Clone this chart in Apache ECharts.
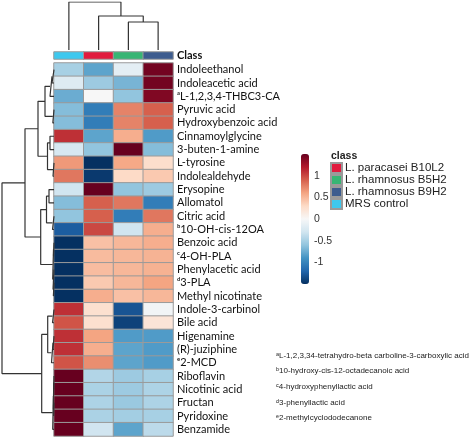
<!DOCTYPE html>
<html><head><meta charset="utf-8">
<script src="https://cdn.jsdelivr.net/npm/echarts/dist/echarts.min.js"></script>
<style>html,body{margin:0;padding:0;background:#fff}#c{width:472px;height:438px}</style>
</head><body><div id="c"></div>
<script>
const colNames = ['MRS control', 'L. paracasei B10L2', 'L. rhamnosus B5H2', 'L. rhamnosus B9H2'];
const classColors = ['#3EC8EE', '#E11B3E', '#38B574', '#3D5C8E'];
const legendOrder = ['L. paracasei B10L2', 'L. rhamnosus B5H2', 'L. rhamnosus B9H2', 'MRS control'];
const rowNames = ['Indoleethanol', 'Indoleacetic acid', 'ᵃL-1,2,3,4-THBC3-CA', 'Pyruvic acid', 'Hydroxybenzoic acid',
  'Cinnamoylglycine', '3-buten-1-amine', 'L-tyrosine', 'Indolealdehyde', 'Erysopine', 'Allomatol', 'Citric acid',
  'ᵇ10-OH-cis-12OA', 'Benzoic acid', 'ᶜ4-OH-PLA', 'Phenylacetic acid', 'ᵈ3-PLA', 'Methyl nicotinate',
  'Indole-3-carbinol', 'Bile acid', 'Higenamine', '(R)-juziphine', 'ᵉ2-MCD', 'Riboflavin', 'Nicotinic acid',
  'Fructan', 'Pyridoxine', 'Benzamide'];
// row z-scores: [MRS control, B10L2, B5H2, B9H2]
const values = [
  [-0.5, -0.8, -0.15, 1.45],
  [-0.2, -0.55, -0.7, 1.45],
  [-0.75, 0.0, -0.6, 1.4],
  [-0.65, -1.05, 0.75, 0.9],
  [-0.65, -1.05, 0.75, 0.9],
  [1.1, -0.8, 0.55, -0.85],
  [-0.25, -0.6, 1.5, -0.65],
  [0.65, -1.5, 0.58, 0.27],
  [0.8, -1.45, 0.3, 0.4],
  [-0.3, 1.5, -0.6, -0.55],
  [-0.65, 0.9, 0.8, -1.05],
  [-0.6, 0.9, -1.05, 0.8],
  [-1.25, 1.0, -0.3, 0.55],
  [-1.5, 0.45, 0.5, 0.55],
  [-1.5, 0.48, 0.5, 0.52],
  [-1.5, 0.47, 0.5, 0.53],
  [-1.5, 0.4, 0.5, 0.6],
  [-1.5, 0.55, 0.45, 0.5],
  [1.1, 0.25, -1.3, -0.05],
  [0.95, 0.25, -1.4, 0.2],
  [1.1, 0.6, -0.85, -0.85],
  [1.1, 0.55, -0.8, -0.85],
  [0.95, 0.7, -0.8, -0.85],
  [1.5, -0.45, -0.55, -0.5],
  [1.5, -0.48, -0.55, -0.47],
  [1.5, -0.47, -0.56, -0.47],
  [1.5, -0.48, -0.52, -0.5],
  [1.5, -0.3, -0.8, -0.4]
];
// dendrograms: [height, left, right], leaves are row/column indices
const rowTree = [52,
  [29,
    [16,
      [9, [4, [2, 0, 1], 2], [1.2, 3, 4]],
      [6.5, [4, 5, 6], [1, 7, 8]]],
    [13.3,
      [7.5, [5, 9, 10], [1.5, 11, 12]],
      [1.3, [0.5, 13, 14], [1.0, 15, [0.6, 16, 17]]]]],
  [12.3,
    [6.3, [1.5, 18, 19], [2.5, [1, 20, 21], 22]],
    [1.3, [0.6, [0.3, 23, 24], [0.3, 25, 26]], 27]]];
const colTree = [48, 0, [34, 1, [28, 2, 3]]];
const footnotes = ['ᵃL-1,2,3,34-tetrahydro-beta carboline-3-carboxylic acid',
  'ᵇ10-hydroxy-cis-12-octadecanoic acid', 'ᶜ4-hydroxyphenyllactic acid',
  'ᵈ3-phenyllactic acid', 'ᵉ2-methylcyclododecanone'];
const rdbu = ['#053061', '#2166AC', '#4393C3', '#92C5DE', '#D1E5F0', '#F7F7F7',
  '#FDDBC7', '#F4A582', '#D6604D', '#B2182B', '#67001F'];

function walk(node, out) {
  if (typeof node === 'number') return { pos: node + 0.5, h: 0 };
  const a = walk(node[1], out), b = walk(node[2], out);
  out.push([[a.pos, a.h], [a.pos, node[0]], [b.pos, node[0]], [b.pos, b.h]]);
  return { pos: (a.pos + b.pos) / 2, h: node[0] };
}
const rowSegs = []; walk(rowTree, rowSegs);
const colSegs = []; walk(colTree, colSegs);

const heatData = [];
values.forEach((r, i) => r.forEach((v, j) => heatData.push([j, i, v])));

const lineStyle = { color: '#333', width: 1.2 };
const series = [{
  type: 'heatmap', xAxisIndex: 0, yAxisIndex: 0, data: heatData,
  itemStyle: { borderColor: '#9a9a9a', borderWidth: 1 },
  emphasis: { disabled: true }, silent: true
}];
colNames.forEach((n, j) => series.push({
  type: 'heatmap', name: n, xAxisIndex: 1, yAxisIndex: 1, data: [[j, 0, 1]],
  itemStyle: { color: classColors[j], borderColor: '#9a9a9a', borderWidth: 1 },
  emphasis: { disabled: true }, silent: true
}));
rowSegs.forEach(s => series.push({
  type: 'line', xAxisIndex: 2, yAxisIndex: 2, data: s.map(p => [p[1], p[0]]),
  symbol: 'none', lineStyle, silent: true
}));
colSegs.forEach(s => series.push({
  type: 'line', xAxisIndex: 3, yAxisIndex: 3, data: s,
  symbol: 'none', lineStyle, silent: true
}));

const hidden = { show: false };
const chart = echarts.init(document.getElementById('c'), null, { renderer: 'canvas' });
chart.setOption({
  animation: false,
  backgroundColor: '#fff',
  grid: [
    { left: 54, top: 63, width: 119, height: 373 },
    { left: 54, top: 52, width: 119, height: 7 },
    { left: 2, top: 63, width: 52, height: 373 },
    { left: 54, top: 2, width: 119, height: 48 },
    { left: 301, top: 154, width: 8, height: 130 }
  ],
  xAxis: [
    { type: 'category', gridIndex: 0, data: colNames, show: false },
    { type: 'category', gridIndex: 1, data: colNames, show: false },
    { type: 'value', gridIndex: 2, min: 0, max: 52, inverse: true, show: false },
    { type: 'value', gridIndex: 3, min: 0, max: 4, show: false },
    { type: 'value', gridIndex: 4, show: false }
  ],
  yAxis: [
    { type: 'category', gridIndex: 0, data: rowNames, inverse: true, position: 'right',
      axisLine: hidden, axisTick: hidden, splitLine: hidden,
      axisLabel: { interval: 0, margin: 4, fontSize: 11, fontFamily: 'Lato', color: '#111' } },
    { type: 'category', gridIndex: 1, data: ['Class'], position: 'right',
      axisLine: hidden, axisTick: hidden, splitLine: hidden,
      axisLabel: { margin: 4, fontSize: 11, fontWeight: 'bold', fontFamily: 'Lato', color: '#111' } },
    { type: 'value', gridIndex: 2, min: 0, max: 28, inverse: true, show: false },
    { type: 'value', gridIndex: 3, min: 0, max: 48, show: false },
    { type: 'value', gridIndex: 4, min: -1.5, max: 1.5, interval: 0.5, position: 'right',
      axisLine: hidden, axisTick: hidden, splitLine: hidden,
      axisLabel: { margin: 5, fontSize: 10.5, fontFamily: 'Liberation Sans', color: '#333',
        showMinLabel: false, showMaxLabel: false } }
  ],
  visualMap: {
    type: 'continuous', seriesIndex: 0, min: -1.5, max: 1.5, calculable: false,
    left: 301, top: 154, itemWidth: 8, itemHeight: 130, padding: 0,
    inRange: { color: rdbu }, hoverLink: false, textStyle: { fontSize: 0 }
  },
  legend: {
    data: legendOrder, orient: 'vertical', left: 330, top: 162, padding: 0,
    itemWidth: 11, itemHeight: 10, itemGap: 0, icon: 'rect',
    textStyle: { fontSize: 11.5, fontFamily: 'Liberation Sans', color: '#222', padding: [0, 0, 0, -2] },
    selectedMode: false
  },
  graphic: [
    { type: 'text', x: 331, y: 156, style: { text: 'class', fontSize: 10.5, fontWeight: 'bold',
      fontFamily: 'Liberation Sans', fill: '#222', verticalAlign: 'middle' } }
  ].concat(footnotes.map((t, i) => ({
    type: 'text', x: 276, y: 355.5 + i * 15.6,
    style: { text: t, fontSize: 8.0, fontFamily: 'Liberation Sans', fill: '#222', verticalAlign: 'middle' }
  }))),
  series
});
</script></body></html>
